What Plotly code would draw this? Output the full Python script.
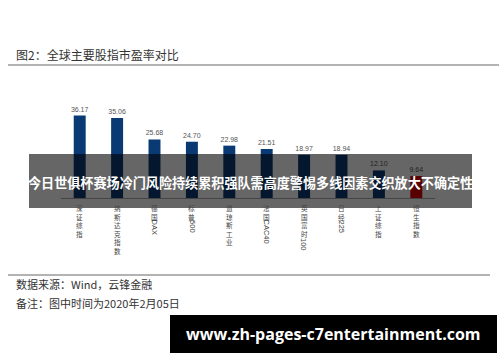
import plotly.graph_objects as go

# Price-to-earnings ratios of major global stock indices
indices = ["深证综指", "纳斯达克指数", "德国DAX", "标普500", "道琼斯工业",
           "法国CAC40", "英国富时100", "日经225", "上证综指", "恒生指数"]
pe_ratio = [36.17, 35.06, 25.68, 24.70, 22.98, 21.51, 18.97, 18.94, 12.10, 9.64]
bar_colors = ["#0a3a74"] * 9 + ["#dc0000"]

title_text = "图2：全球主要股指市盈率对比"
source_text = "数据来源：Wind，云锋金融"
note_text = "备注：图中时间为2020年2月05日"
banner_text = "今日世俱杯赛场冷门风险持续累积强队需高度警惕多线因素交织放大不确定性"
site_text = "www.zh-pages-c7entertainment.com"

W, H = 500, 362
L, R, T, B = 61, 65, 90, 164
CJK = "Noto Sans CJK SC"


def px_x(x):
    return (x - L) / (W - L - R)


def px_y(y):
    return (H - B - y) / (H - T - B)


fig = go.Figure()
fig.add_trace(go.Bar(
    x=indices, y=pe_ratio,
    marker=dict(color=bar_colors, line=dict(width=0)),
    text=[f"{v:.2f}" for v in pe_ratio],
    textposition="outside",
    textfont=dict(size=7, color="#555555", family="Liberation Sans"),
    constraintext="none",
    cliponaxis=False,
))

annotations = []

# Vertical category labels: CJK characters stacked upright, latin runs rotated
CJK_SIZE = 6.6
PITCH = CJK_SIZE * 1.3
for cat in indices:
    runs = []
    for ch in cat:
        kind = "latin" if ord(ch) < 128 else "cjk"
        if runs and runs[-1][0] == kind:
            runs[-1][1] += ch
        else:
            runs.append([kind, ch])
    ycur = 202.0
    for kind, s in runs:
        if kind == "cjk":
            annotations.append(dict(
                x=cat, xref="x", y=px_y(ycur), yref="paper",
                text="<br>".join(s), showarrow=False,
                xanchor="center", yanchor="top",
                font=dict(size=CJK_SIZE, color="#444444", family=CJK), borderpad=0,
            ))
            ycur += len(s) * PITCH + 1.5
        else:
            length = len(s) * 4.2
            annotations.append(dict(
                x=cat, xref="x", y=px_y(ycur + length / 2), yref="paper",
                text=s, showarrow=False, textangle=90,
                xanchor="center", yanchor="middle",
                font=dict(size=7.5, color="#444444", family="Liberation Sans"),
                borderpad=0,
            ))
            ycur += length + 1

annotations += [
    dict(x=px_x(14), y=px_y(55), xref="paper", yref="paper", text=title_text,
         showarrow=False, xanchor="left", yanchor="middle",
         font=dict(size=12, color="#333333", family=CJK)),
    dict(x=px_x(14), y=px_y(284), xref="paper", yref="paper", text=source_text,
         showarrow=False, xanchor="left", yanchor="middle",
         font=dict(size=11, color="#333333", family=CJK)),
    dict(x=px_x(14), y=px_y(303), xref="paper", yref="paper", text=note_text,
         showarrow=False, xanchor="left", yanchor="middle",
         font=dict(size=11, color="#333333", family=CJK)),
    dict(x=px_x(250.5), y=px_y(182), xref="paper", yref="paper", text=f"<b>{banner_text}</b>",
         showarrow=False, xanchor="center", yanchor="middle",
         font=dict(size=13.1, color="#ffffff", family=CJK)),
    dict(x=px_x(333.5), y=px_y(334), xref="paper", yref="paper", text=f"<b>{site_text}</b>",
         showarrow=False, xanchor="center", yanchor="middle",
         font=dict(size=16, color="#ffffff", family="Open Sans")),
]

shapes = [
    # rule under the title
    dict(type="line", xref="paper", yref="paper", x0=px_x(8), x1=px_x(499),
         y0=px_y(65), y1=px_y(65), line=dict(color="#b3b3b3", width=2)),
    # rule above the footnotes
    dict(type="line", xref="paper", yref="paper", x0=px_x(8), x1=px_x(490),
         y0=px_y(275), y1=px_y(275), line=dict(color="#666666", width=1)),
    # translucent banner
    dict(type="rect", xref="paper", yref="paper", x0=px_x(29), x1=px_x(472),
         y0=px_y(154), y1=px_y(208), fillcolor="rgba(0,0,0,0.6)",
         line=dict(width=0), layer="above"),
    # black site box
    dict(type="rect", xref="paper", yref="paper", x0=px_x(170), x1=px_x(497),
         y0=px_y(315), y1=px_y(353), fillcolor="#000000",
         line=dict(width=0), layer="above"),
]

fig.update_layout(
    width=W, height=H,
    margin=dict(l=L, r=R, t=T, b=B, pad=0),
    paper_bgcolor="#ffffff", plot_bgcolor="#ffffff",
    showlegend=False,
    bargap=0.68,
    xaxis=dict(showline=True, linecolor="#aaaaaa", linewidth=1,
               showticklabels=False, ticks="", showgrid=False, zeroline=False),
    yaxis=dict(range=[0, 47.4], visible=False, showgrid=False, zeroline=False),
    annotations=annotations,
    shapes=shapes,
)

fig.write_html("out.html")
